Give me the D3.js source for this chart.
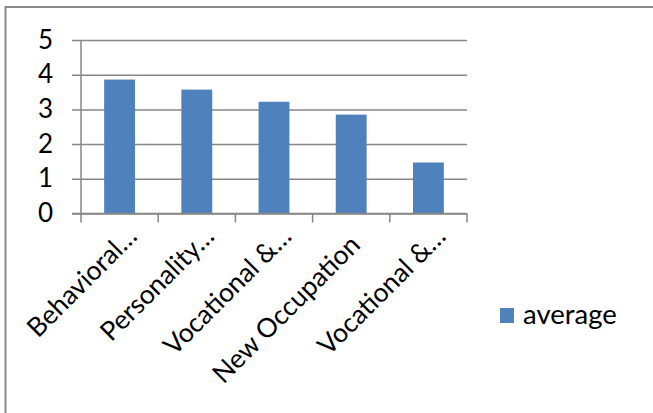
<!DOCTYPE html>
<html>
<head>
<meta charset="utf-8">
<script src="https://cdn.jsdelivr.net/npm/d3@7"></script>
<style>
  html, body { margin: 0; padding: 0; background: #fff; }
  svg { display: block; }
  text { font-family: Lato, "Open Sans", sans-serif; fill: #000; }
</style>
</head>
<body>
<svg id="chart" width="653" height="413"></svg>
<script>
// ---- data ----
const categories = ["Behavioral…", "Personality…", "Vocational &…", "New Occupation", "Vocational &…"];
const values = [3.86, 3.57, 3.22, 2.85, 1.47];
const yTicks = [0, 1, 2, 3, 4, 5];
const seriesName = "average";

// ---- layout ----
const W = 653, H = 413;
const plot = { left: 81, right: 467, top: 40, bottom: 213.5 };
const barColor = "#4F81BD";
const lineColor = "#868686";
const labelSize = 26.5;
const legendSize = 27.5;
const tickSize = 26;

const svg = d3.select("#chart");

// outer chart border (extends beyond the visible window on right/bottom)
svg.append("rect")
  .attr("x", 5.5).attr("y", 7)
  .attr("width", W + 20).attr("height", H + 20)
  .attr("fill", "none").attr("stroke", "#8a8a8a").attr("stroke-width", 2);

const x = d3.scaleBand()
  .domain(d3.range(categories.length))
  .range([plot.left, plot.right])
  .paddingInner(0.6)
  .paddingOuter(0.3);

const y = d3.scaleLinear().domain([0, 5]).range([plot.bottom, plot.top]);

// gridlines + y ticks
const yAxis = d3.axisLeft(y).tickValues(yTicks).tickSize(-(plot.right - plot.left)).tickFormat(d3.format("d")).tickPadding(0);
const gy = svg.append("g").attr("transform", `translate(${plot.left},0)`).call(yAxis);
gy.select(".domain").remove();
gy.selectAll(".tick line").attr("stroke", lineColor).attr("stroke-width", 1.5).attr("x1", -9);
gy.selectAll(".tick text")
  .attr("x", -28).attr("dy", null).attr("y", 8)
  .attr("text-anchor", "end")
  .style("font-family", "Lato, sans-serif").style("font-size", tickSize + "px").attr("fill", "#000");

// bars
svg.append("g").selectAll("rect").data(values).join("rect")
  .attr("x", (d, i) => x(i))
  .attr("y", d => y(d))
  .attr("width", x.bandwidth())
  .attr("height", d => y(0) - y(d))
  .attr("fill", barColor);

// y axis line
svg.append("line")
  .attr("x1", plot.left).attr("x2", plot.left)
  .attr("y1", plot.top).attr("y2", plot.bottom)
  .attr("stroke", lineColor).attr("stroke-width", 1.5);

// x axis line
svg.append("line")
  .attr("x1", plot.left - 9).attr("x2", plot.right)
  .attr("y1", plot.bottom).attr("y2", plot.bottom)
  .attr("stroke", lineColor).attr("stroke-width", 1.5);

// x tick marks at band boundaries
const step = x.step();
const boundaries = d3.range(categories.length + 1).map(i => plot.left + i * step);
svg.append("g").selectAll("line").data(boundaries).join("line")
  .attr("x1", d => d).attr("x2", d => d)
  .attr("y1", plot.bottom).attr("y2", plot.bottom + 9)
  .attr("stroke", lineColor).attr("stroke-width", 1.5);

// x labels rotated -45
svg.append("g").selectAll("text").data(categories).join("text")
  .attr("transform", (d, i) => `translate(${x(i) + x.bandwidth() / 2 + 19},238) rotate(-45)`)
  .attr("text-anchor", "end")
  .attr("x", d => d.endsWith("…") ? 0 : -12)
  .style("font-size", labelSize + "px")
  .text(d => d);

// legend
const lg = svg.append("g");
lg.append("rect").attr("x", 500).attr("y", 308).attr("width", 14).attr("height", 15).attr("fill", barColor);
lg.append("text").attr("x", 523).attr("y", 324).style("font-size", legendSize + "px").text(seriesName);
</script>
</body>
</html>
